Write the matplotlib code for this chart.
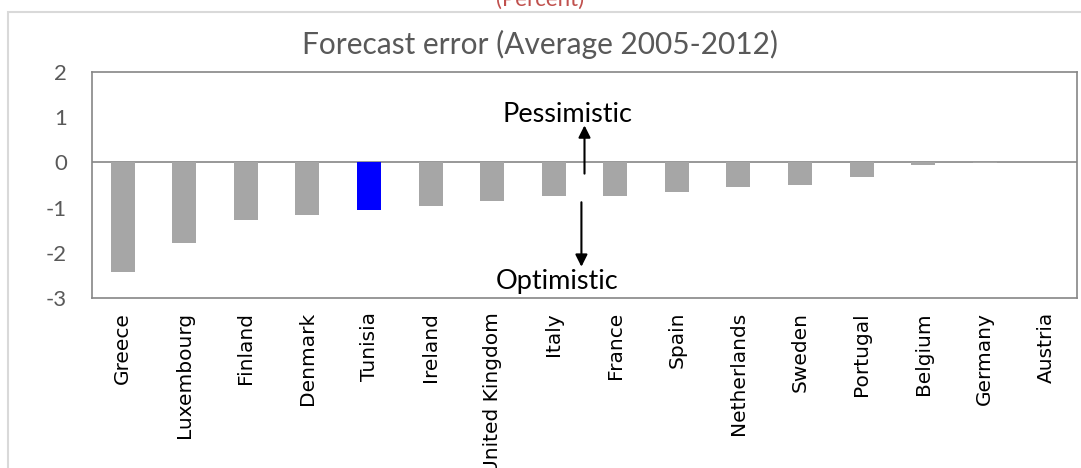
import matplotlib.pyplot as plt
from matplotlib.patches import Rectangle

countries = ["Greece", "Luxembourg", "Finland", "Denmark", "Tunisia", "Ireland",
             "United Kingdom", "Italy", "France", "Spain", "Netherlands", "Sweden",
             "Portugal", "Belgium", "Germany", "Austria"]
errors = [-2.42, -1.78, -1.28, -1.16, -1.05, -0.97, -0.86, -0.75, -0.74, -0.66,
          -0.55, -0.51, -0.33, -0.06, -0.02, 0.0]
yticks = [2, 1, 0, -1, -2, -3]

colors = ["#0000ff" if c == "Tunisia" else "#a6a6a6" for c in countries]

fig = plt.figure(figsize=(10.81, 4.68), dpi=100)
ax = fig.add_axes([92 / 1081, 1 - 298 / 468, (1077 - 92) / 1081, (298 - 72) / 468])

x = list(range(len(countries)))
ax.bar(x, errors, width=0.39, color=colors, edgecolor="none", zorder=3)

ax.set_xlim(-0.5, len(countries) - 0.5)
ax.set_ylim(-3, 2)
ax.set_yticks(yticks)
ax.set_yticklabels([str(v) for v in yticks], fontsize=16, color="#595959", family="Lato")
ax.tick_params(axis="y", length=0, pad=18)
ax.set_xticks(x)
ax.set_xticklabels(countries, rotation=90, fontsize=14.5, va="top")
ax.tick_params(axis="x", length=0, pad=10)
for s in ax.spines.values():
    s.set_color("#868686")
    s.set_linewidth(1.2)
ax.axhline(0, color="#868686", lw=1.2, zorder=2)

# arrows
ax.annotate("", xy=(7.5, 0.88), xytext=(7.5, -0.31),
            arrowprops=dict(arrowstyle="-|>", color="black", lw=1.5, mutation_scale=18))
ax.annotate("", xy=(7.45, -2.37), xytext=(7.45, -0.82),
            arrowprops=dict(arrowstyle="-|>", color="black", lw=1.5, mutation_scale=18))
ax.text(7.23, 1.05, "Pessimistic", ha="center", va="center", fontsize=19.5, family="Lato")
ax.text(7.05, -2.63, "Optimistic", ha="center", va="center", fontsize=19.5, family="Lato")

# chart frame and titles
fig.patches.append(Rectangle((8 / 1081, -0.1), 1.2, 1 - 12 / 468 + 0.1,
                             transform=fig.transFigure, fill=False,
                             edgecolor="#d9d9d9", lw=1.5))
fig.text(0.5, 1 - 44 / 468, "Forecast error (Average 2005-2012)", ha="center",
         va="center", fontsize=21.5, color="#595959", family="Lato")
fig.text(0.5, 1.0, "(Percent)", ha="center", va="center", fontsize=16,
         color="#c0504d", family="Lato")

plt.savefig("out.png", dpi=100)
